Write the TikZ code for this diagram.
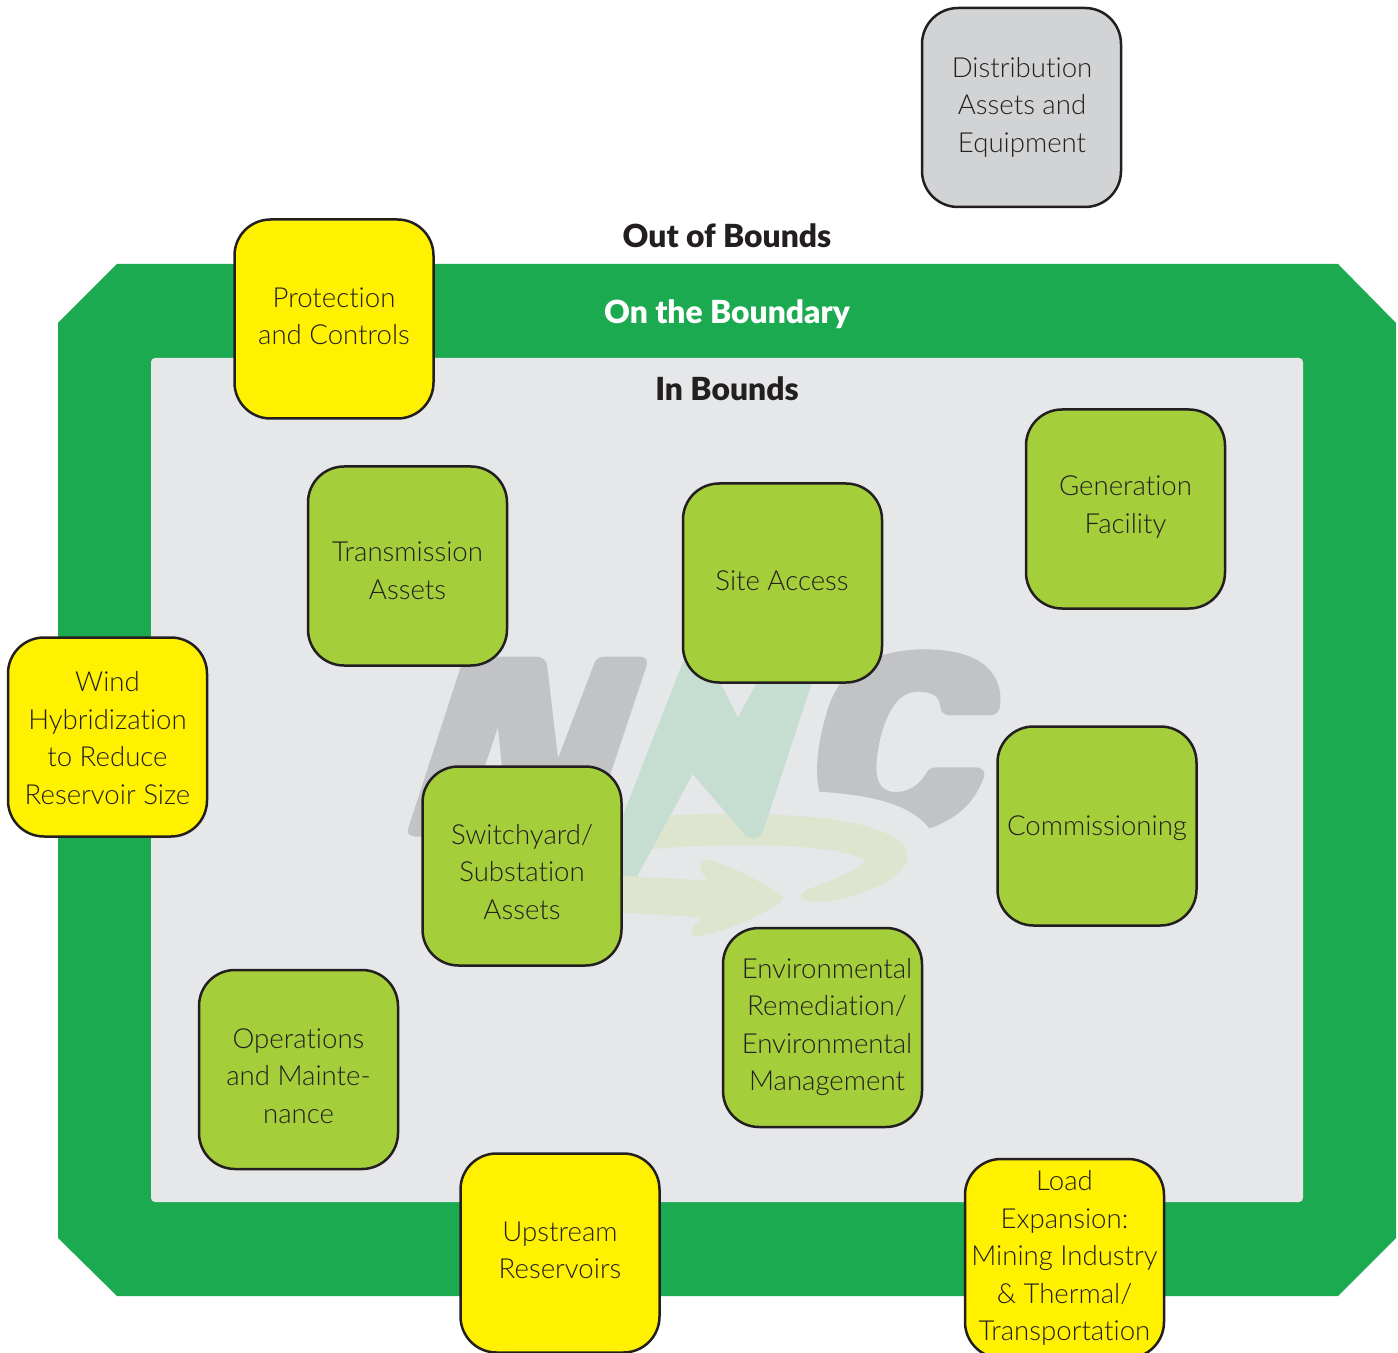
\documentclass[tikz,border=0pt]{standalone}
\usepackage{fontspec}
\setmainfont{Lato Light}[BoldFont={Lato Black},Ligatures=NoCommon]
\definecolor{bandgreen}{HTML}{1CAA50}
\definecolor{inner}{HTML}{E6E7E9}
\definecolor{lime}{HTML}{A4CE3A}
\definecolor{yel}{HTML}{FFF100}
\definecolor{greybox}{HTML}{D1D3D4}
\definecolor{ink}{HTML}{231F20}
\definecolor{logogrey}{HTML}{C2C3C5}
\definecolor{logogreen}{HTML}{C6DDD2}
\definecolor{logoswoosh}{HTML}{DDE5CF}
\tikzset{
  x=0.5pt,y=-0.5pt,
  box/.style={draw=ink,line width=1.25pt,rounded corners=18pt,minimum width=99.5pt,minimum height=99.5pt,inner sep=0pt,outer sep=0pt},
  greenbox/.style={box,fill=lime},
  yellowbox/.style={box,fill=yel},
  greyboxs/.style={box,fill=greybox},
  boxtext/.style={align=center,text=ink,font=\fontsize{13.8}{18.75}\selectfont,inner sep=0pt},
  head/.style={text=ink,font=\fontsize{15.9}{18}\selectfont\bfseries,inner sep=0pt}
}
\newcommand{\bx}[7]{%
  \node[#2] (#1) at (#3,#4) {};
  \node[boxtext] (#1-text) at (#5,#6) {#7};}
\begin{document}
\begin{tikzpicture}
\useasboundingbox (0,0) rectangle (1398,1353);
\fill[bandgreen] (117,264) -- (1338,264) -- (1396,323) -- (1396,1238) -- (1338,1296) -- (117,1296) -- (58,1238) -- (58,323) -- cycle;
\fill[inner,rounded corners=2pt] (151,358) rectangle (1303,1202);
\begin{scope}[shift={(400,640)},xscale=0.395,yscale=1/3]
  % N
  \fill[logogrey] (20,568) -- (158,65) .. controls (162,54) and (170,50) .. (180,50) -- (345,50) .. controls (362,50) and (372,62) .. (373,80) -- (400,355) -- (492,70) .. controls (497,56) and (505,50) .. (518,50) -- (608,50) .. controls (622,50) and (628,62) .. (624,78) -- (525,430) -- (262,430) -- (248,262) -- (200,430) -- (100,430) -- (100,590) -- (42,590) .. controls (26,590) and (17,582) .. (20,568) -- cycle;
  % C
  \fill[logogrey] (1062,455) .. controls (1050,400) and (1055,310) .. (1085,200) .. controls (1115,90) and (1200,28) .. (1330,28) .. controls (1460,28) and (1525,90) .. (1520,190) .. controls (1519,215) and (1510,226) .. (1490,226) -- (1395,226) .. controls (1375,226) and (1368,215) .. (1367,195) .. controls (1365,165) and (1340,155) .. (1310,155) .. controls (1260,155) and (1230,220) .. (1213,310) .. controls (1198,400) and (1205,456) .. (1255,456) .. controls (1295,456) and (1320,425) .. (1332,400) .. controls (1338,387) and (1345,382) .. (1360,382) -- (1455,382) .. controls (1473,382) and (1483,392) .. (1478,412) .. controls (1455,490) and (1405,540) .. (1340,565) .. controls (1290,490) and (1190,465) .. (1062,455) -- cycle;
  % swoosh
  \fill[logoswoosh] (600,535) .. controls (720,520) and (850,518) .. (960,525) .. controls (1160,535) and (1285,580) .. (1285,650) .. controls (1285,720) and (1130,790) .. (1045,785) .. controls (1015,783) and (1005,765) .. (1030,750) .. controls (1080,725) and (1150,700) .. (1180,662) .. controls (1140,630) and (1010,615) .. (880,615) .. controls (780,615) and (690,620) .. (600,632) -- cycle;
  \fill[logoswoosh] (540,706) -- (780,722) .. controls (760,695) and (750,665) .. (775,660) .. controls (810,660) and (950,745) .. (970,772) .. controls (975,790) and (850,870) .. (760,887) .. controls (735,892) and (730,875) .. (745,858) -- (763,832) -- (540,816) -- cycle;
  % lightning
  \fill[logogreen] (725,40) -- (540,600) -- (540,709) -- (600,709) -- (741,402) -- (868,578) .. controls (885,602) and (912,602) .. (920,570) -- (1048,110) -- (912,110) -- (855,233) -- (803,110) -- (790,40) -- cycle;
\end{scope}
\node[head] (outb) at (727,236) {Out of Bounds};
\node[head,text=white] (onb) at (727,314) {On the Boundary};
\node[head] (inb) at (727,389) {In Bounds};
\bx{dist}{greyboxs}{1021.5}{107.5}{1022}{107}{Distribution\\Assets and\\Equipment}
\bx{prot}{yellowbox}{334}{319}{334}{316.5}{Protection\\and Controls}
\bx{wind}{yellowbox}{107.5}{737}{107.5}{738}{Wind\\Hybridization\\to Reduce\\Reservoir Size}
\bx{upst}{yellowbox}{560}{1253}{560}{1250.5}{Upstream\\Reservoirs}
\bx{load}{yellowbox}{1064.5}{1258.5}{1064.5}{1258}{Load\\Expansion:\\Mining Industry\\\& Thermal/\\Transportation}
\bx{trans}{greenbox}{407.5}{566}{407.5}{571}{Transmission\\Assets}
\bx{site}{greenbox}{782.5}{583}{782}{581}{Site Access}
\bx{gen}{greenbox}{1125.5}{509}{1125.5}{507}{Generation\\Facility}
\bx{comm}{greenbox}{1097}{826}{1097}{828}{Commissioning}
\bx{swit}{greenbox}{522}{866}{522}{872}{Switchyard/\\Substation\\Assets}
\bx{env}{greenbox}{822.5}{1027.5}{827}{1027}{Environmental\\Remediation/\\Environmental\\Management}
\bx{ops}{greenbox}{298.5}{1069.5}{298.5}{1076}{Operations\\and Mainte-\\nance}
\end{tikzpicture}
\end{document}
